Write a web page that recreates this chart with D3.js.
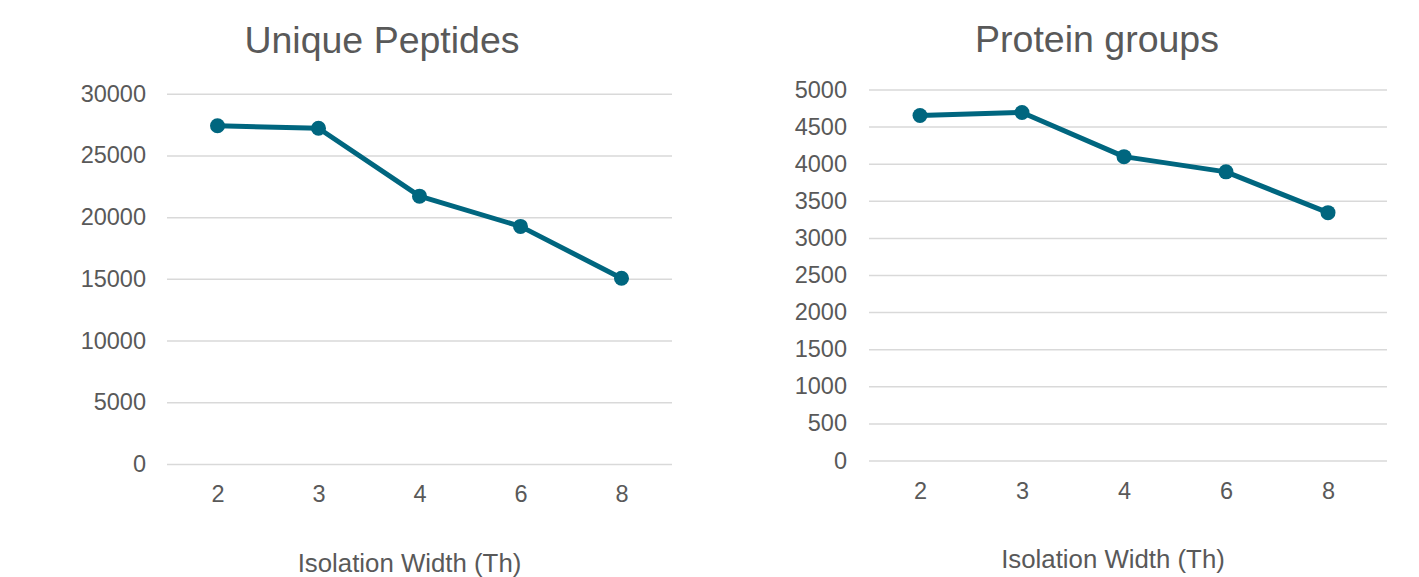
<!DOCTYPE html>
<html>
<head>
<meta charset="utf-8">
<script src="https://cdn.jsdelivr.net/npm/d3@7/dist/d3.min.js"></script>
<style>
  html, body { margin: 0; padding: 0; background: #ffffff; }
  svg { display: block; font-family: "Liberation Sans", Arial, sans-serif; }
</style>
</head>
<body>
<svg id="chart" width="1419" height="577"></svg>
<script>
// Isolation window widths (Th) shared by both panels
const isolationWidths = ["2", "3", "4", "6", "8"];

// Unique peptides identified per isolation width
const uniquePeptides = [27400, 27200, 21700, 19250, 15050];
const peptideTicks = [0, 5000, 10000, 15000, 20000, 25000, 30000];

// Protein groups identified per isolation width
const proteinGroups = [4650, 4690, 4095, 3890, 3340];
const proteinTicks = [0, 500, 1000, 1500, 2000, 2500, 3000, 3500, 4000, 4500, 5000];

const axisTitle = "Isolation Width (Th)";

const LINE_COLOR = "#00667f";
const GRID_COLOR = "#d9d9d9";
const TEXT_COLOR = "#595959";

const svg = d3.select("#chart");

function drawPanel(opts) {
  const { title, values, ticks, left, right, top, bottom, gridRight,
          titleX, titleY, axisTitleX, axisTitleY, labelGap, xLabelGap } = opts;

  const x = d3.scalePoint()
    .domain(isolationWidths)
    .range([left, right])
    .padding(0.5);

  const y = d3.scaleLinear()
    .domain([0, d3.max(ticks)])
    .range([bottom, top]);

  const g = svg.append("g");

  // horizontal gridlines with value labels
  const yAxis = g.append("g")
    .attr("transform", `translate(${left},0)`)
    .call(d3.axisLeft(y)
      .tickValues(ticks)
      .tickFormat(d3.format("d"))
      .tickSize(-(gridRight - left))
      .tickPadding(labelGap));
  yAxis.select(".domain").remove();
  yAxis.selectAll(".tick line")
    .attr("stroke", GRID_COLOR)
    .attr("stroke-width", 1.5);
  yAxis.selectAll(".tick text")
    .attr("fill", TEXT_COLOR)
    .attr("font-size", "23.5px");

  // category labels along the bottom
  const xAxis = g.append("g")
    .attr("transform", `translate(0,${bottom})`)
    .call(d3.axisBottom(x).tickSize(0).tickPadding(xLabelGap));
  xAxis.select(".domain").remove();
  xAxis.selectAll(".tick text")
    .attr("fill", TEXT_COLOR)
    .attr("font-size", "23.5px");

  // series line
  const pts = isolationWidths.map((c, i) => [x(c), y(values[i])]);
  g.append("path")
    .attr("d", d3.line()(pts))
    .attr("fill", "none")
    .attr("stroke", LINE_COLOR)
    .attr("stroke-width", 5)
    .attr("stroke-linejoin", "round");

  g.selectAll("circle.marker")
    .data(values)
    .join("circle")
    .attr("class", "marker")
    .attr("cx", (d, i) => x(isolationWidths[i]))
    .attr("cy", d => y(d))
    .attr("r", 7.5)
    .attr("fill", LINE_COLOR);

  // chart title
  g.append("text")
    .attr("x", titleX)
    .attr("y", titleY)
    .attr("text-anchor", "middle")
    .attr("fill", TEXT_COLOR)
    .attr("font-size", "37.5px")
    .text(title);

  // axis title
  g.append("text")
    .attr("x", axisTitleX)
    .attr("y", axisTitleY)
    .attr("text-anchor", "middle")
    .attr("fill", TEXT_COLOR)
    .attr("font-size", "25.8px")
    .text(axisTitle);
}

drawPanel({
  title: "Unique Peptides",
  values: uniquePeptides,
  ticks: peptideTicks,
  left: 167, right: 672, gridRight: 672,
  top: 93.7, bottom: 464,
  titleX: 382, titleY: 53,
  axisTitleX: 409.5, axisTitleY: 572,
  labelGap: 21, xLabelGap: 21
});

drawPanel({
  title: "Protein groups",
  values: proteinGroups,
  ticks: proteinTicks,
  left: 869, right: 1379, gridRight: 1387,
  top: 89.5, bottom: 460.5,
  titleX: 1097, titleY: 52,
  axisTitleX: 1113, axisTitleY: 568,
  labelGap: 22, xLabelGap: 22
});
</script>
</body>
</html>
